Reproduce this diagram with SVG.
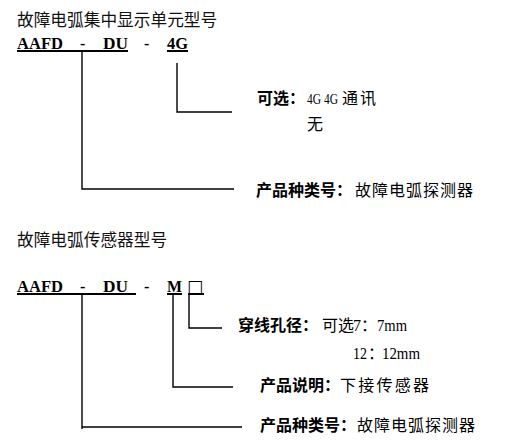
<svg xmlns="http://www.w3.org/2000/svg" width="512" height="448" viewBox="0 0 512 448">
<style>
.title{font-family:"Noto Sans CJK SC","Noto Sans",sans-serif;font-size:16.7px;fill:#111}
.code{font-family:"Liberation Serif","Times New Roman",serif;font-size:16px;font-weight:bold;fill:#000}
.lb{font-family:"Noto Sans CJK SC",sans-serif;font-size:16px;font-weight:bold;fill:#000}
.lr{font-family:"Noto Sans CJK SC",sans-serif;font-size:16px;fill:#000}
.ln{font-family:"Liberation Serif","Times New Roman",serif;font-size:16px;fill:#000}
.box{font-family:"DejaVu Sans",sans-serif;font-size:17px;fill:#000}
.ul{stroke:#000;stroke-width:2;fill:none}
.c{stroke:#000;stroke-width:1.4;fill:none}
</style>
<rect width="512" height="448" fill="#fff"/>

<g id="display-model">
<text class="title" x="17" y="26">故障电弧集中显示单元型号</text>
<text class="code" y="49"><tspan x="17" textLength="46" lengthAdjust="spacingAndGlyphs">AAFD</tspan><tspan x="80">-</tspan><tspan x="103" textLength="25" lengthAdjust="spacingAndGlyphs">DU</tspan><tspan x="144">-</tspan><tspan x="167" textLength="21" lengthAdjust="spacingAndGlyphs">4G</tspan></text>
<line class="ul" x1="17" y1="51" x2="128" y2="51"/>
<line class="ul" x1="167" y1="51" x2="188" y2="51"/>
</g>

<g id="display-option">
<text class="lb" x="257" y="104">可选：</text>
<text class="ln" x="307" y="104" style="font-size:14px" textLength="14" lengthAdjust="spacingAndGlyphs">4G</text>
<text class="ln" x="324" y="104" style="font-size:14px" textLength="14" lengthAdjust="spacingAndGlyphs">4G</text>
<text class="lr" x="342" y="104" letter-spacing="2">通讯</text>
<text class="lr" x="307" y="130">无</text>
</g>

<g id="display-type">
<text class="lb" x="256" y="196">产品种类号：</text>
<text class="lr" x="355" y="196" textLength="118" lengthAdjust="spacing">故障电弧探测器</text>
</g>

<g id="sensor-model">
<text class="title" x="17" y="246">故障电弧传感器型号</text>
<text class="code" y="292"><tspan x="17" textLength="46" lengthAdjust="spacingAndGlyphs">AAFD</tspan><tspan x="80">-</tspan><tspan x="103" textLength="25" lengthAdjust="spacingAndGlyphs">DU</tspan><tspan x="144">-</tspan><tspan x="167" textLength="15" lengthAdjust="spacingAndGlyphs">M</tspan></text>
<text class="box" x="187" y="292">□</text>
<line class="ul" x1="17" y1="294" x2="136" y2="294"/>
<line class="ul" x1="167" y1="294" x2="182" y2="294"/>
<line class="ul" x1="188" y1="294" x2="204" y2="294"/>
</g>

<g id="sensor-hole">
<text class="lb" x="238" y="331">穿线孔径：</text>
<text class="lr" x="322" y="331">可选</text>
<text class="ln" x="353" y="331">7</text>
<text class="lr" x="361" y="331">：</text>
<text class="ln" x="377" y="331" textLength="30" lengthAdjust="spacingAndGlyphs">7mm</text>
<text class="ln" x="353" y="359" textLength="14" lengthAdjust="spacingAndGlyphs">12</text>
<text class="lr" x="368" y="359">：</text>
<text class="ln" x="382" y="359" textLength="38" lengthAdjust="spacingAndGlyphs">12mm</text>
</g>

<g id="sensor-desc">
<text class="lb" x="260" y="391">产品说明：</text>
<text class="lr" x="340" y="391" textLength="89" lengthAdjust="spacing">下接传感器</text>
</g>

<g id="sensor-type">
<text class="lb" x="260" y="431">产品种类号：</text>
<text class="lr" x="357" y="431" textLength="118" lengthAdjust="spacing">故障电弧探测器</text>
</g>

<g id="connectors">
<polyline class="c" points="82,51 82,189 234,189"/>
<polyline class="c" points="177,63 177,112 232,112"/>
<polyline class="c" points="82,294 82,429"/>
<line class="c" x1="82" y1="427" x2="242" y2="427"/>
<polyline class="c" points="173,294 173,387 233,387"/>
<polyline class="c" points="189,294 189,328 222,328"/>
</g>
</svg>
